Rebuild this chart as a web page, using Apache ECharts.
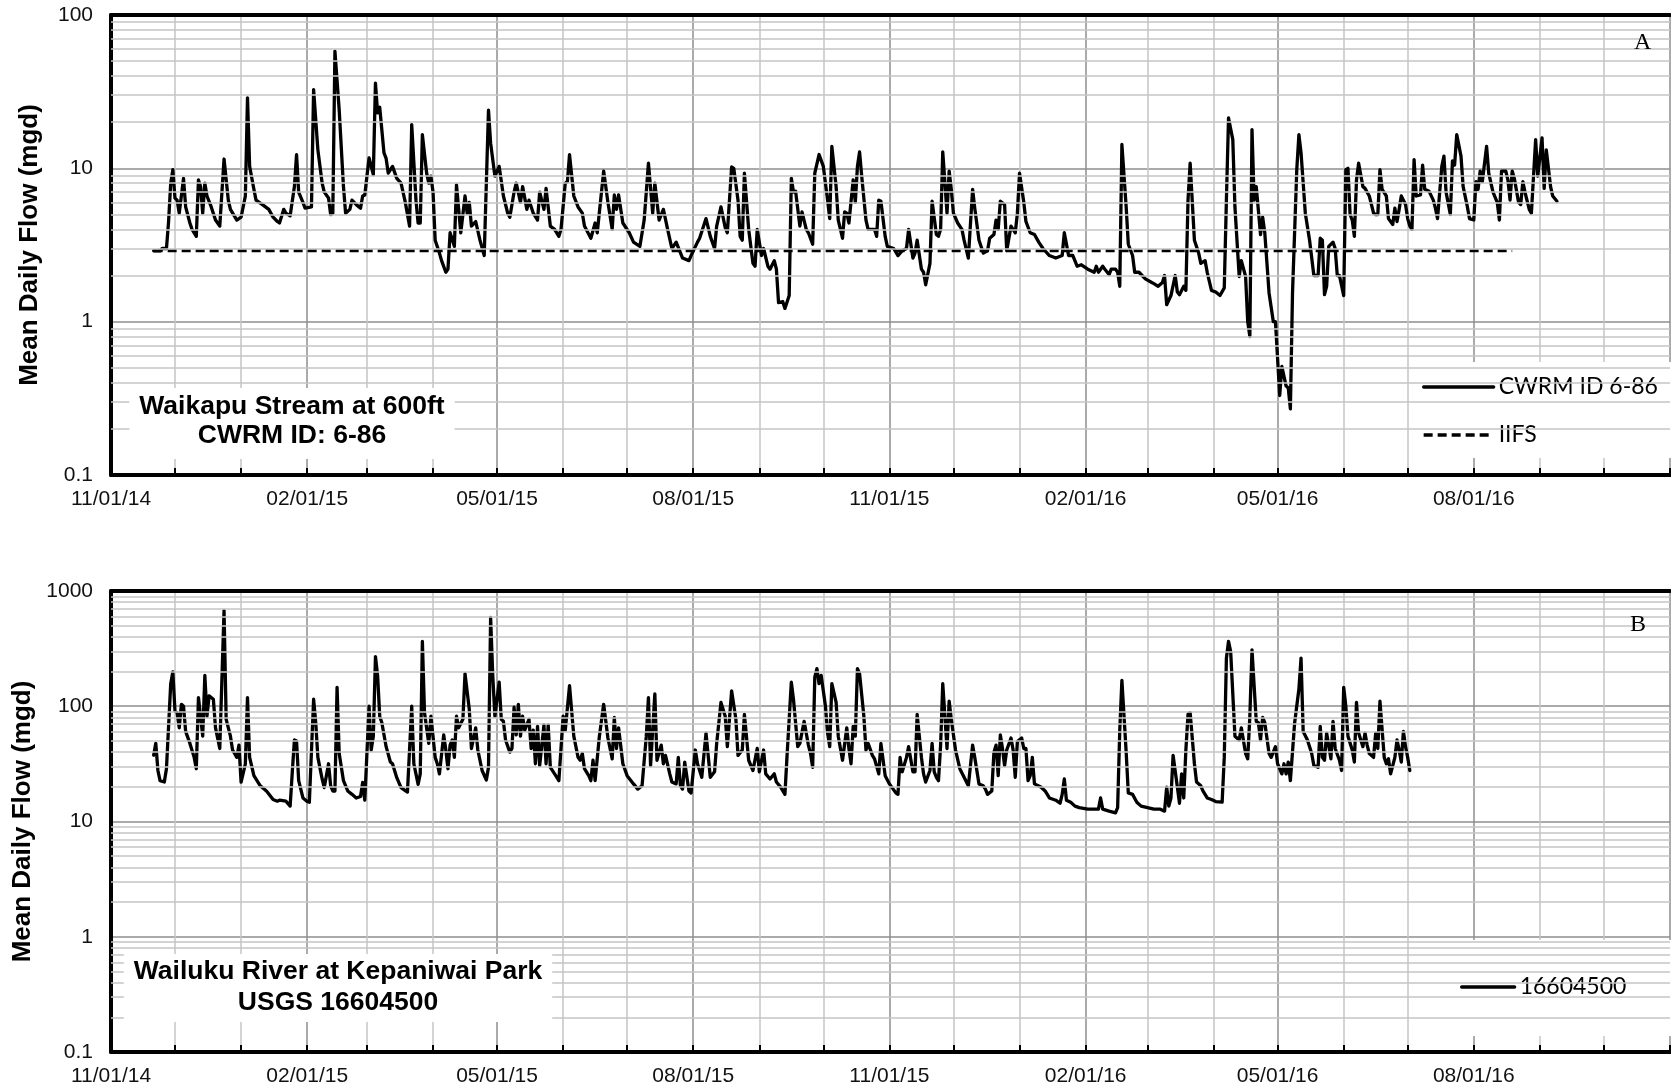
<!DOCTYPE html>
<html>
<head>
<meta charset="utf-8">
<script src="https://cdn.jsdelivr.net/npm/echarts@6/dist/echarts.min.js"></script>
<style>
  html, body { margin: 0; background: #fff; }
  #chart { width: 1671px; height: 1092px; }
</style>
</head>
<body>
<div id="chart"></div>
<script>
// x positions are day counts from 11/01/14 (one category per day)
const startDate = Date.UTC(2014, 10, 1)
const dayCount = 732
const tickLabels = ['11/01/14', '02/01/15', '05/01/15', '08/01/15', '11/01/15', '02/01/16', '05/01/16', '08/01/16']
const quarterMonths = ['11', '02', '05', '08']

// Waikapu Stream at 600ft, [day, mgd]
const cwrmFlow = [
  [20, 2.9], [23, 2.9], [24, 3.0], [26, 3.0], [27, 4.5], [28, 8.0], [29, 9.8], [30, 6.4], [31, 6.2], [32, 5.1],
  [34, 8.6], [35, 5.6], [37, 4.4], [38, 4.0], [40, 3.6], [41, 8.4], [42, 7.6], [43, 5.1], [44, 8.0], [45, 6.6],
  [47, 5.6], [49, 4.6], [51, 4.2], [53, 11.5], [55, 6.2], [56, 5.4], [59, 4.6], [61, 4.8], [63, 6.6], [64, 28.8],
  [65, 10.3], [67, 7.3], [68, 6.2], [71, 5.8], [74, 5.4], [76, 4.8], [78, 4.5], [79, 4.4], [81, 5.4], [82, 5.1],
  [84, 4.9], [86, 7.6], [87, 12.3], [88, 7.0], [90, 6.0], [91, 5.5], [94, 5.6], [95, 32.6], [97, 13.2], [99, 8.0],
  [100, 7.0], [102, 6.4], [103, 5.0], [104, 5.1], [105, 58], [107, 24], [109, 7.6], [110, 5.1], [112, 5.4], [113, 6.2],
  [115, 5.8], [117, 5.5], [118, 6.6], [119, 6.7], [121, 11.7], [123, 9.1], [124, 36], [125, 23], [126, 25], [128, 12.6],
  [129, 11.6], [130, 9.3], [132, 10.3], [134, 8.6], [136, 8.0], [138, 6.0], [140, 4.2], [141, 19.3], [143, 6.2], [144, 4.4],
  [145, 4.4], [146, 16.6], [148, 9.3], [149, 8.0], [150, 8.9], [151, 7.0], [152, 3.4], [154, 2.8], [155, 2.5], [157, 2.1],
  [158, 2.2], [159, 3.8], [161, 3.1], [162, 7.8], [164, 3.8], [166, 6.6], [167, 5.1], [168, 6.0], [169, 4.2], [171, 4.5],
  [173, 3.4], [175, 2.7], [177, 24], [178, 14.6], [180, 8.9], [182, 10.3], [184, 6.6], [186, 5.1], [187, 4.8], [189, 7.0],
  [190, 8.0], [192, 6.0], [193, 7.6], [195, 5.4], [196, 6.2], [198, 5.1], [200, 4.6], [201, 7.0], [203, 5.4], [204, 7.4],
  [206, 4.2], [208, 4.0], [210, 3.6], [211, 4.0], [213, 8.0], [214, 8.2], [215, 12.3], [217, 6.6], [219, 5.6], [221, 5.1],
  [222, 4.2], [225, 3.5], [227, 4.4], [228, 3.8], [231, 9.6], [233, 6.0], [235, 4.0], [236, 6.7], [237, 5.4], [238, 6.7],
  [240, 4.4], [243, 3.8], [245, 3.3], [248, 3.1], [250, 4.6], [252, 10.8], [254, 5.1], [255, 8.0], [257, 4.6], [259, 5.4],
  [261, 4.0], [263, 3.0], [265, 3.3], [268, 2.6], [271, 2.5], [272, 2.7], [275, 3.3], [276, 3.5], [279, 4.7], [281, 3.6],
  [283, 3.0], [284, 4.2], [286, 5.6], [288, 4.1], [289, 3.8], [291, 10.2], [292, 10.0], [294, 6.2], [295, 3.6], [296, 3.4],
  [297, 9.3], [299, 4.0], [301, 2.4], [302, 2.3], [303, 4.0], [305, 2.7], [306, 3.0], [308, 2.3], [309, 2.2], [311, 2.5],
  [312, 2.2], [313, 1.33], [315, 1.35], [316, 1.22], [318, 1.48], [319, 8.6], [320, 7.0], [321, 7.1], [323, 4.2], [324, 5.2],
  [326, 4.0], [327, 3.8], [329, 3.2], [330, 9.3], [332, 12.3], [334, 10.3], [336, 6.2], [337, 4.7], [338, 13.9], [340, 7.6],
  [341, 4.6], [343, 3.5], [344, 5.2], [345, 5.1], [346, 4.4], [348, 8.4], [349, 6.0], [350, 10.3], [351, 12.8], [352, 8.9],
  [354, 4.6], [355, 4.0], [358, 4.0], [359, 3.6], [360, 6.2], [361, 6.1], [363, 3.6], [364, 3.1], [367, 3.0], [369, 2.7],
  [371, 2.9], [373, 3.0], [374, 4.0], [376, 2.6], [377, 2.8], [378, 3.4], [380, 2.2], [381, 2.1], [382, 1.74], [384, 2.4],
  [385, 6.1], [387, 3.7], [388, 3.6], [389, 4.0], [390, 12.8], [392, 5.1], [393, 9.6], [394, 7.3], [395, 5.1], [397, 4.4],
  [399, 4.0], [400, 3.4], [402, 2.6], [404, 7.3], [405, 5.5], [407, 3.4], [409, 2.8], [411, 2.9], [412, 3.5], [414, 3.7],
  [415, 4.6], [416, 4.0], [417, 6.1], [419, 5.8], [420, 2.9], [422, 4.2], [424, 3.8], [425, 5.1], [426, 9.3], [428, 6.0],
  [429, 4.5], [431, 3.8], [433, 3.7], [435, 3.3], [437, 3.0], [440, 2.7], [443, 2.6], [446, 2.7], [447, 3.8], [449, 2.7],
  [451, 2.7], [453, 2.3], [455, 2.35], [458, 2.2], [461, 2.1], [462, 2.3], [463, 2.1], [465, 2.3], [466, 2.2], [468, 2.03],
  [469, 2.2], [471, 2.2], [472, 2.1], [473, 1.7], [474, 14.3], [476, 5.6], [477, 3.2], [479, 2.7], [480, 2.1], [482, 2.1],
  [485, 1.9], [488, 1.8], [489, 1.77], [491, 1.7], [493, 1.8], [494, 2.0], [495, 1.29], [497, 1.48], [499, 2.0], [500, 1.56],
  [501, 1.5], [503, 1.7], [504, 1.6], [505, 6.2], [506, 10.8], [508, 3.4], [510, 2.8], [511, 2.4], [513, 2.5], [514, 2.1],
  [516, 1.6], [518, 1.56], [520, 1.48], [522, 1.66], [523, 6.2], [524, 21.3], [526, 15.4], [527, 5.6], [529, 1.97], [530, 2.5],
  [532, 1.97], [533, 1.0], [534, 0.8], [535, 17.9], [536, 6.2], [537, 7.6], [539, 3.7], [540, 4.8], [541, 3.8], [543, 1.54],
  [545, 1.0], [546, 1.0], [548, 0.33], [549, 0.51], [551, 0.38], [552, 0.37], [553, 0.27], [554, 1.54], [556, 9.8], [557, 16.6],
  [558, 12.6], [560, 5.1], [562, 3.4], [564, 2.0], [566, 2.0], [567, 3.5], [568, 3.4], [569, 1.5], [570, 1.7], [571, 3.1],
  [573, 3.3], [574, 3.0], [575, 2.0], [576, 2.0], [578, 1.48], [579, 9.8], [580, 10.0], [581, 5.0], [582, 4.6], [583, 3.6],
  [584, 8.4], [585, 10.8], [587, 7.6], [588, 7.4], [590, 6.6], [592, 5.1], [593, 5.0], [594, 5.0], [595, 9.8], [596, 7.3],
  [598, 6.6], [599, 4.7], [601, 4.3], [602, 5.5], [603, 4.5], [604, 5.4], [605, 6.6], [607, 5.8], [608, 4.7], [609, 4.2],
  [610, 4.0], [611, 11.4], [612, 6.6], [614, 6.7], [615, 10.5], [616, 7.3], [618, 7.1], [620, 6.2], [621, 5.5], [622, 4.7],
  [624, 10.3], [625, 12.0], [626, 7.0], [628, 5.0], [629, 11.2], [630, 10.5], [631, 16.6], [633, 12.0], [634, 7.6], [636, 5.6],
  [637, 4.7], [639, 4.6], [640, 8.2], [641, 7.3], [642, 9.6], [643, 8.2], [645, 13.9], [646, 9.3], [648, 7.0], [650, 6.0],
  [651, 4.6], [652, 9.6], [654, 9.6], [655, 8.4], [656, 6.2], [657, 9.6], [658, 8.6], [660, 6.0], [661, 5.8], [662, 8.2],
  [663, 7.0], [665, 5.4], [666, 5.1], [668, 15.4], [669, 8.9], [671, 15.8], [672, 7.4], [673, 13.2], [675, 7.6], [676, 6.6],
  [678, 6.1]
]

// interim instream flow standard
const iifsFlow = [[20, 2.9], [657, 2.9]]

// Wailuku River at Kepaniwai Park, [day, mgd]
const usgsFlow = [
  [20, 37.6], [21, 47.6], [22, 27.7], [23, 22.6], [25, 22], [26, 28.7], [28, 157], [29, 199], [30, 91], [31, 88],
  [32, 65], [33, 104], [34, 100], [35, 60.5], [37, 47.6], [39, 36], [40, 28.7], [41, 119], [43, 55], [44, 185],
  [45, 82], [46, 123], [48, 115], [49, 65], [51, 43], [53, 676], [54, 77], [56, 55], [57, 41.7], [59, 36],
  [60, 46], [61, 22], [63, 31.7], [64, 119], [65, 36], [67, 25], [70, 20.4], [73, 18.3], [76, 15.5], [78, 15],
  [79, 15.3], [82, 15], [84, 13.6], [85, 26.8], [86, 51], [87, 50], [88, 22.6], [90, 16], [92, 14.9], [93, 14.7],
  [95, 115], [96, 72], [97, 36], [99, 23.4], [100, 19.7], [102, 31.7], [103, 20.4], [104, 18.4], [105, 18.4], [106, 146],
  [107, 38.9], [109, 22.6], [111, 18.4], [113, 17.2], [115, 16], [117, 16.5], [118, 21.8], [119, 15.3], [121, 100], [122, 41.7],
  [123, 55], [124, 270], [125, 185], [126, 82], [127, 72], [129, 44.6], [131, 32.8], [132, 31.7], [134, 24], [136, 19.7],
  [139, 18], [141, 100], [142, 31.7], [144, 21], [145, 25.9], [146, 366], [147, 88], [149, 47.6], [150, 82], [152, 36],
  [153, 31.7], [154, 25.9], [156, 56.5], [157, 41.7], [158, 28.7], [159, 46], [160, 51], [161, 36], [162, 82], [163, 65],
  [165, 77], [166, 192], [168, 94], [169, 43], [171, 65], [172, 41.7], [174, 27.7], [176, 22.9], [177, 29.5], [178, 589],
  [179, 185], [180, 82], [182, 162], [183, 77], [184, 74], [185, 51], [187, 40], [188, 43], [189, 98], [190, 56.5],
  [191, 104], [192, 55], [193, 82], [194, 62], [196, 77], [197, 43], [198, 62], [199, 31.7], [200, 67], [201, 30.6],
  [203, 69], [204, 31.7], [205, 69], [206, 29.5], [208, 25.9], [210, 22.6], [212, 82], [213, 62], [215, 151], [217, 55],
  [219, 36], [220, 34], [221, 38.9], [222, 28.7], [224, 25], [225, 22.6], [226, 34], [227, 22.6], [229, 55], [231, 104],
  [233, 53], [235, 35], [236, 80], [237, 43], [238, 65], [240, 31.7], [242, 25], [245, 21.2], [247, 19.1], [249, 20.4],
  [251, 55], [252, 119], [253, 30.6], [255, 128], [256, 34], [258, 46], [259, 31.7], [260, 37.5], [262, 25.9], [263, 22],
  [265, 21.2], [266, 36], [267, 20.4], [268, 19.1], [269, 32.8], [271, 18.4], [272, 17.7], [274, 41.7], [275, 31.7], [277, 24.2],
  [279, 58.5], [281, 24.2], [283, 27], [284, 47.6], [286, 108], [288, 82], [289, 44.6], [291, 136], [293, 77], [294, 37.5],
  [296, 41.7], [297, 85], [299, 34], [301, 27.7], [303, 43], [304, 27], [306, 41.7], [307, 25.9], [309, 23.4], [311, 25.9],
  [312, 22], [314, 19.9], [316, 17.2], [317, 37.5], [319, 162], [320, 115], [322, 44.6], [323, 47.6], [325, 74], [327, 46],
  [328, 38.9], [329, 29.5], [330, 179], [331, 212], [332, 157], [333, 185], [335, 100], [336, 58.5], [337, 44.6], [338, 157],
  [340, 108], [341, 55], [343, 34], [345, 65], [346, 43], [347, 31.7], [348, 67], [349, 55], [350, 212], [351, 192],
  [353, 82], [354, 41.7], [355, 47.6], [357, 37.5], [358, 35], [360, 25.9], [361, 47.6], [363, 25], [365, 21.2], [368, 17.7],
  [369, 17.2], [370, 36], [371, 27], [373, 36], [374, 44.6], [376, 27], [377, 27], [378, 85], [380, 36], [381, 25.9],
  [382, 22], [384, 27.7], [385, 47.6], [386, 27], [387, 24.2], [388, 22.6], [389, 46], [390, 157], [392, 43], [393, 111],
  [394, 77], [396, 41.7], [398, 28.7], [400, 24.2], [402, 20.4], [404, 46], [405, 36], [407, 21.2], [409, 20.4], [410, 19.1],
  [411, 17.2], [413, 18.4], [414, 40], [415, 46], [416, 25], [417, 56.5], [418, 43], [419, 30.6], [420, 41.7], [422, 53],
  [423, 41.7], [424, 24.2], [425, 49.5], [427, 53], [428, 43], [429, 43], [430, 22.6], [431, 25], [432, 36], [433, 21.2],
  [436, 19.9], [438, 18.4], [440, 16], [443, 15.3], [445, 14.4], [446, 17.2], [447, 23.4], [448, 15.3], [450, 14.7], [452, 13.6],
  [454, 13.2], [458, 12.8], [463, 12.8], [464, 16], [465, 12.8], [468, 12.3], [471, 11.9], [472, 13.2], [473, 62], [474, 168],
  [476, 40], [477, 17.7], [479, 17.2], [481, 14.7], [483, 13.6], [486, 13.2], [489, 12.8], [492, 12.8], [494, 12.3], [495, 19.9],
  [496, 13.6], [497, 16], [498, 37.5], [500, 19.9], [501, 14.4], [502, 25.9], [503, 16], [504, 41.7], [505, 85], [506, 88],
  [508, 31.7], [509, 22], [511, 20.4], [512, 18.4], [514, 16], [516, 15.5], [518, 14.9], [521, 14.7], [522, 36], [523, 261],
  [524, 366], [525, 298], [527, 55], [529, 51], [530, 65], [532, 38.9], [533, 35], [534, 82], [535, 309], [537, 74],
  [538, 72], [539, 51], [540, 80], [541, 72], [543, 38.9], [544, 36], [546, 44.6], [547, 31.7], [549, 25.9], [550, 31.7],
  [551, 25.9], [552, 32.8], [553, 22.6], [555, 72], [557, 141], [558, 261], [559, 60.5], [561, 51], [563, 38.9], [564, 30.6],
  [566, 29.5], [567, 67], [568, 36], [569, 34], [570, 58.5], [572, 35], [573, 74], [574, 43], [576, 34], [577, 27.7],
  [578, 146], [579, 100], [580, 55], [582, 41.7], [583, 32.8], [584, 108], [585, 58.5], [587, 44.6], [588, 58.5], [589, 46],
  [590, 38.9], [592, 36], [593, 58.5], [594, 43], [595, 111], [597, 36], [598, 31.7], [599, 35], [600, 25.9], [602, 36],
  [603, 51], [604, 41.7], [605, 32.8], [606, 60.5], [607, 44.6], [608, 36], [609, 27.7]
]

const pad2 = n => String(n).padStart(2, '0')
const categories = []
for (let i = 0; i < dayCount; i++) {
  const d = new Date(startDate + i * 86400000)
  categories.push(pad2(d.getUTCMonth() + 1) + '/' + pad2(d.getUTCDate()) + '/' + pad2(d.getUTCFullYear() % 100))
}
const isMonthStart = v => v.slice(3, 5) === '01'
const isQuarter = v => isMonthStart(v) && quarterMonths.includes(v.slice(0, 2))

// 2..9 lines inside each decade of a log axis
function minorLevels(minExp, maxExp) {
  const out = []
  for (let e = minExp; e < maxExp; e++) {
    for (let k = 2; k <= 9; k++) out.push(+(k * Math.pow(10, e)).toPrecision(3))
  }
  return out
}

const minorColor = '#c4c4c4'
const majorColor = '#8e8e8e'
const font = 'Liberation Sans'

function xAxesFor(g) {
  return [{
    type: 'category', gridIndex: g, data: categories, boundaryGap: false, position: 'bottom',
    axisLine: { onZero: false, lineStyle: { color: '#000', width: 4 } },
    axisTick: { inside: true, length: 7, interval: (i, v) => isMonthStart(v), lineStyle: { color: '#000', width: 2 } },
    axisLabel: { interval: (i, v) => tickLabels.includes(v), margin: 14, fontSize: 21, color: '#111', fontFamily: font },
    splitLine: { show: true, interval: (i, v) => isMonthStart(v) && !isQuarter(v), lineStyle: { color: minorColor, width: 1.5 } }
  }, {
    type: 'category', gridIndex: g, data: categories, boundaryGap: false, position: 'top',
    axisLine: { onZero: false, lineStyle: { color: '#000', width: 4 } },
    axisTick: { show: false },
    axisLabel: { show: false },
    splitLine: { show: true, interval: (i, v) => isQuarter(v), lineStyle: { color: majorColor, width: 1.5 } }
  }]
}

function yAxisFor(g, max) {
  return {
    type: 'log', gridIndex: g, logBase: 10, min: 0.1, max: max,
    axisLine: { show: true, onZero: false, lineStyle: { color: '#000', width: 4 } },
    axisTick: { show: false },
    axisLabel: { margin: 18, fontSize: 21, color: '#111', fontFamily: font, formatter: v => String(+(+v).toPrecision(4)) },
    splitLine: { show: true, lineStyle: { color: majorColor, width: 1.5 } },
    name: 'Mean Daily Flow (mgd)', nameLocation: 'middle', nameGap: 68,
    nameTextStyle: { fontSize: 26, fontWeight: 'bold', color: '#000', fontFamily: font }
  }
}

function gridLines(g, maxExp) {
  return {
    type: 'line', name: 'grid' + g, xAxisIndex: g * 2, yAxisIndex: g, data: [], z: -1, silent: true,
    markLine: {
      silent: true, symbol: 'none', animation: false, label: { show: false },
      lineStyle: { color: minorColor, width: 1.5, type: 'solid' },
      data: minorLevels(-1, maxExp).map(v => ({ yAxis: v }))
    }
  }
}

const flowLine = { color: '#000', width: 3.3, cap: 'round', join: 'round' }
const legendText = { fontFamily: 'Lato', fontSize: 23, color: '#000', lineHeight: 24 }
const boxTitle = { fontFamily: font, fontSize: 26.5, fontWeight: 'bold', color: '#000' }
const panelLetter = { fontFamily: 'Liberation Serif', fontSize: 24, fontWeight: 'normal', color: '#000' }

const chart = echarts.init(document.getElementById('chart'))
chart.setOption({
  animation: false,
  backgroundColor: '#fff',
  textStyle: { fontFamily: font },
  grid: [
    { left: 111, top: 15, width: 1559, height: 460 },
    { left: 111, top: 591, width: 1559, height: 461 }
  ],
  xAxis: [...xAxesFor(0), ...xAxesFor(1)],
  yAxis: [yAxisFor(0, 100), yAxisFor(1, 1000)],
  title: [
    {
      text: 'Waikapu Stream at 600ft\nCWRM ID: 6-86', left: 282, top: 388, textAlign: 'center',
      padding: [4, 10, 9, 10], backgroundColor: '#fff', textStyle: { ...boxTitle, lineHeight: 29 }
    },
    {
      text: 'Wailuku River at Kepaniwai Park\nUSGS 16604500', left: 328, top: 954, textAlign: 'center',
      padding: [2, 10, 4, 10], backgroundColor: '#fff', textStyle: { ...boxTitle, lineHeight: 31 }
    },
    { text: 'A', left: 1634, top: 31, padding: 0, textStyle: panelLetter },
    { text: 'B', left: 1630, top: 613, padding: 0, textStyle: panelLetter }
  ],
  legend: [
    {
      data: ['CWRM ID 6-86', 'IIFS'], orient: 'vertical', left: 1409, top: 362,
      backgroundColor: '#fff', padding: [13, 60, 11, 13], itemWidth: 70, itemHeight: 24, itemGap: 24,
      itemStyle: { opacity: 0 }, lineStyle: { width: 3.3, color: '#000' }, textStyle: legendText, selectedMode: false
    },
    {
      data: ['16604500'], orient: 'vertical', left: 1409, top: 940,
      backgroundColor: '#fff', padding: [35, 60, 37, 51], itemWidth: 53, itemHeight: 24,
      itemStyle: { opacity: 0 }, lineStyle: { width: 3.3, color: '#000' }, textStyle: legendText, selectedMode: false
    }
  ],
  series: [
    gridLines(0, 2),
    gridLines(1, 3),
    {
      type: 'line', name: 'CWRM ID 6-86', xAxisIndex: 0, yAxisIndex: 0, data: cwrmFlow,
      symbol: 'none', lineStyle: flowLine, itemStyle: { color: '#000' }, z: 3
    },
    {
      type: 'line', name: 'IIFS', xAxisIndex: 0, yAxisIndex: 0, data: iifsFlow,
      symbol: 'none', lineStyle: { color: '#000', width: 3, type: [9, 5] }, itemStyle: { color: '#000' }, z: 3
    },
    {
      type: 'line', name: '16604500', xAxisIndex: 2, yAxisIndex: 1, data: usgsFlow,
      symbol: 'none', lineStyle: flowLine, itemStyle: { color: '#000' }, z: 3
    }
  ]
})
</script>
</body>
</html>
